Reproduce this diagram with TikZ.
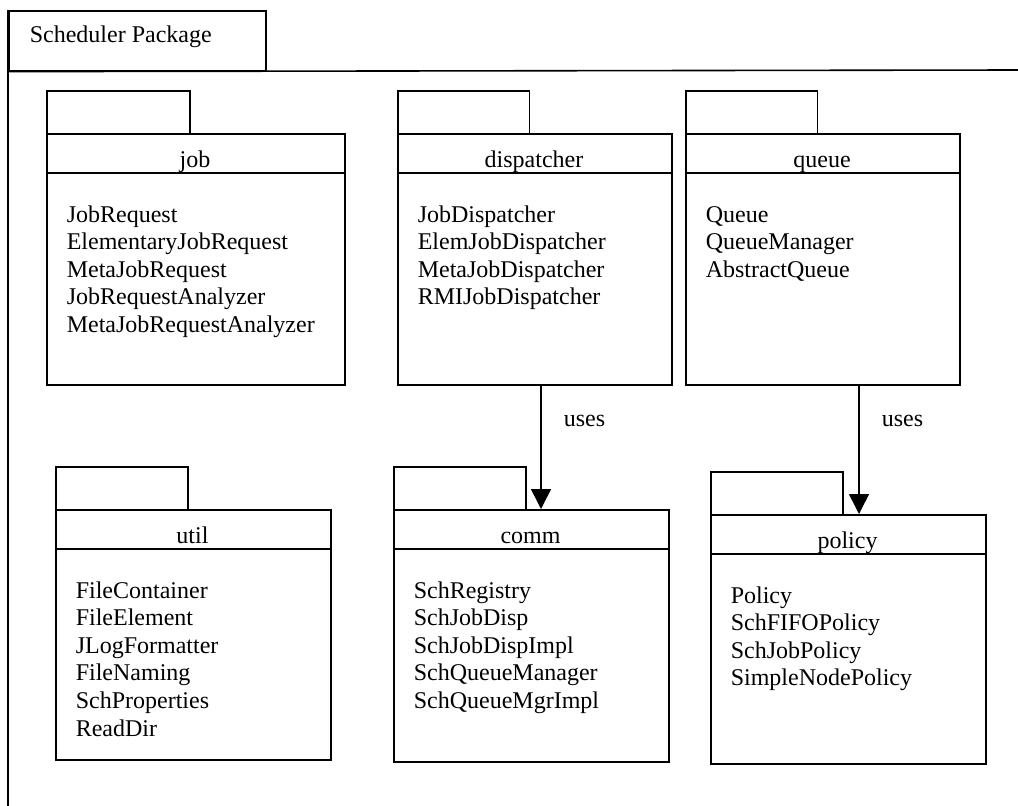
\documentclass[tikz,border=0pt]{standalone}
\usepackage{fontspec}
\setmainfont{Liberation Serif}
\usetikzlibrary{arrows.meta}
\newcommand{\umlpkg}[7]{%
  \node[box, minimum width={0.48*#4}, minimum height=43] (#1-tab) at ({#2},{#3}) {};
  \node[box, minimum width={#4}, minimum height=39] (#1-head) at ({#2},{#3+43}) {};
  \node[box, minimum width={#4}, minimum height={#5-#3-82}] (#1) at ({#2},{#3+82}) {};
  \node[ttl] (#1-title) at ({#2+#4/2},{#3+77}) {#6};
  \foreach \t [count=\i] in {#7}
    \node[item] (#1-\i) at ({#2+20},{#3+132+27.6*(\i-1)}) {\t};
}
\begin{document}
\begin{tikzpicture}[x=1pt,y=-1pt,
  line width=1.6pt,
  box/.style={draw, line width=1.6pt, inner sep=0pt, anchor=north west},
  ttl/.style={anchor=base, inner sep=0pt, font=\fontsize{24}{28}\selectfont},
  item/.style={anchor=base west, inner sep=0pt, font=\fontsize{24}{28}\selectfont},
  lbl/.style={anchor=base west, inner sep=0pt, xshift=22pt, font=\fontsize{24}{28}\selectfont},
  usesarrow/.style={draw, line width=1.6pt, -{Triangle[length=20pt,width=20pt]}},
]
\useasboundingbox (0,0) rectangle (1018,806);
\fill[white] (0,0) rectangle (1018,806);

% outer frame
\node[box, minimum width=257, minimum height=60] (frame-tab) at (8,10) {};
\node[item] (frame-title) at (29,42) {Scheduler Package};
\draw (frame-tab.south west) -- (1018,70);
\draw (frame-tab.north west) -- (8,806);

\umlpkg{job}{46}{90}{298}{384}{job}{JobRequest,ElementaryJobRequest,MetaJobRequest,JobRequestAnalyzer,MetaJobRequestAnalyzer}
\umlpkg{disp}{397}{90}{274}{384}{dispatcher}{JobDispatcher,ElemJobDispatcher,MetaJobDispatcher,RMIJobDispatcher}
\umlpkg{queue}{685}{90}{274}{384}{queue}{Queue,QueueManager,AbstractQueue}
\umlpkg{util}{55}{466}{275}{759}{util}{FileContainer,FileElement,JLogFormatter,FileNaming,SchProperties,ReadDir}
\umlpkg{comm}{393}{466}{275}{761}{comm}{SchRegistry,SchJobDisp,SchJobDispImpl,SchQueueManager,SchQueueMgrImpl}
\umlpkg{policy}{710}{471}{275}{763}{policy}{Policy,SchFIFOPolicy,SchJobPolicy,SimpleNodePolicy}

\coordinate (u1) at (541,0);
\coordinate (u2) at (859,0);
\draw[usesarrow] (disp.south -| u1) -- node[lbl, pos=0.33] (uses1) {uses} (comm-head.north -| u1);
\draw[usesarrow] (queue.south -| u2) -- node[lbl, pos=0.32] (uses2) {uses} (policy-head.north -| u2);
\end{tikzpicture}
\end{document}
